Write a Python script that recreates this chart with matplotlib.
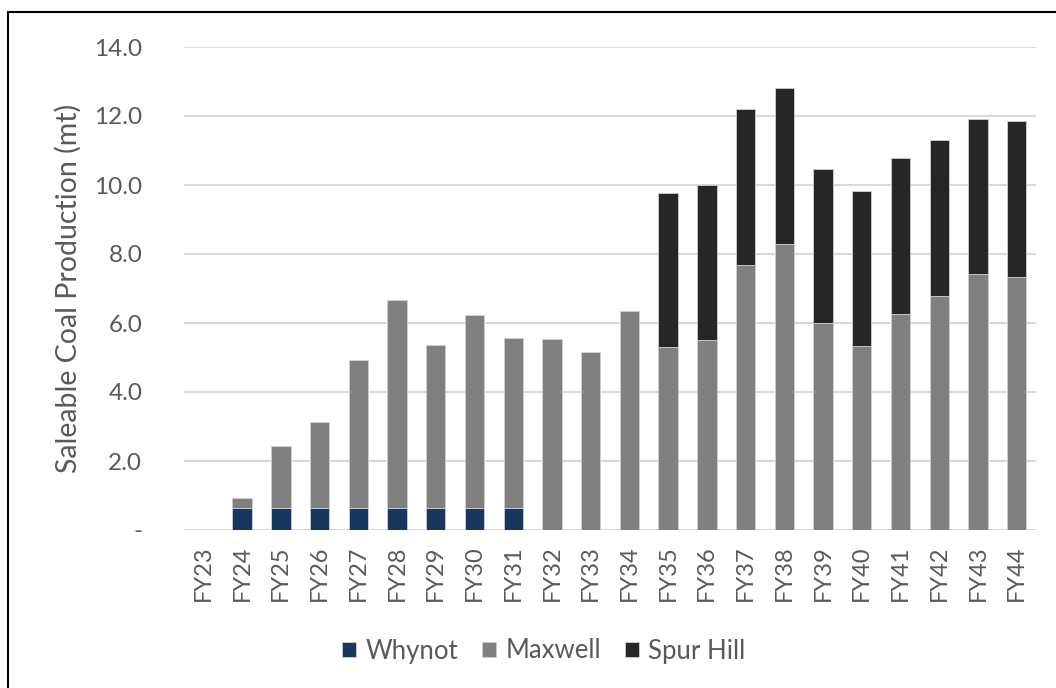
import matplotlib
matplotlib.use("Agg")
import matplotlib.pyplot as plt
from matplotlib.patches import Rectangle
from matplotlib.ticker import FixedLocator, FuncFormatter

plt.rcParams['font.family'] = ['Lato', 'DejaVu Sans']

years = ["FY23", "FY24", "FY25", "FY26", "FY27", "FY28", "FY29", "FY30", "FY31", "FY32", "FY33",
         "FY34", "FY35", "FY36", "FY37", "FY38", "FY39", "FY40", "FY41", "FY42", "FY43", "FY44"]
whynot = [0.0, 0.63, 0.63, 0.63, 0.63, 0.63, 0.63, 0.63, 0.63, 0, 0,
          0, 0, 0, 0, 0, 0, 0, 0, 0, 0, 0]
maxwell = [0.0, 0.29, 1.81, 2.50, 4.30, 6.03, 4.74, 5.60, 4.94, 5.53, 5.16,
           6.34, 5.30, 5.52, 7.69, 8.30, 5.99, 5.34, 6.25, 6.78, 7.43, 7.34]
spur_hill = [0, 0, 0, 0, 0, 0, 0, 0, 0, 0, 0,
             0, 4.47, 4.47, 4.51, 4.51, 4.47, 4.48, 4.52, 4.51, 4.47, 4.51]
y_ticks = [0, 2, 4, 6, 8, 10, 12, 14]

GREY_TEXT = "#595959"

fig = plt.figure(figsize=(10.56, 6.88), dpi=100)
ax = fig.add_axes([184 / 1056, 1 - 530 / 688, (1036 - 184) / 1056, (530 - 47) / 688])

x = list(range(len(years)))
w = 0.5
edge = dict(edgecolor="#d0d0d0", linewidth=0.6)
ax.bar(x, whynot, w, color="#17375E", label="Whynot", zorder=3, **edge)
ax.bar(x, maxwell, w, bottom=whynot, color="#808080", label="Maxwell", zorder=3, **edge)
base = [a + b for a, b in zip(whynot, maxwell)]
ax.bar(x, spur_hill, w, bottom=base, color="#262626", label="Spur Hill", zorder=3, **edge)

ax.set_xlim(-0.5, len(years) - 0.5)
ax.set_ylim(0, 14)
ax.yaxis.set_major_locator(FixedLocator(y_ticks))
ax.yaxis.set_major_formatter(FuncFormatter(lambda v, p: "-" if v == 0 else f"{v:.1f}"))
ax.set_xticks(x)
ax.set_xticklabels(years, rotation=90)
ax.grid(axis="y", color="#d9d9d9", linewidth=1.5, zorder=0)
for s in ax.spines.values():
    s.set_visible(False)
ax.tick_params(axis="both", length=0, colors=GREY_TEXT)
ax.tick_params(axis="y", pad=30, labelsize=17.5)
ax.tick_params(axis="x", pad=11, labelsize=17)

ax.set_ylabel("Saleable Coal Production (mt)", fontsize=20.5, color=GREY_TEXT, labelpad=9)

handles, labels = ax.get_legend_handles_labels()
fig.legend(handles, labels, loc="center", bbox_to_anchor=(0.515, 1 - 651 / 688), ncol=3,
           frameon=False, fontsize=18.5, labelcolor=GREY_TEXT, handlelength=0.55,
           handleheight=0.55, handletextpad=0.35, columnspacing=0.95)

# outer frame
fig.patches.append(Rectangle((8 / 1056, -0.1), 1.2, (688 - 12) / 688 + 0.1, transform=fig.transFigure,
                             fill=False, edgecolor="black", linewidth=1.5))

fig.savefig("out.png", dpi=100)
